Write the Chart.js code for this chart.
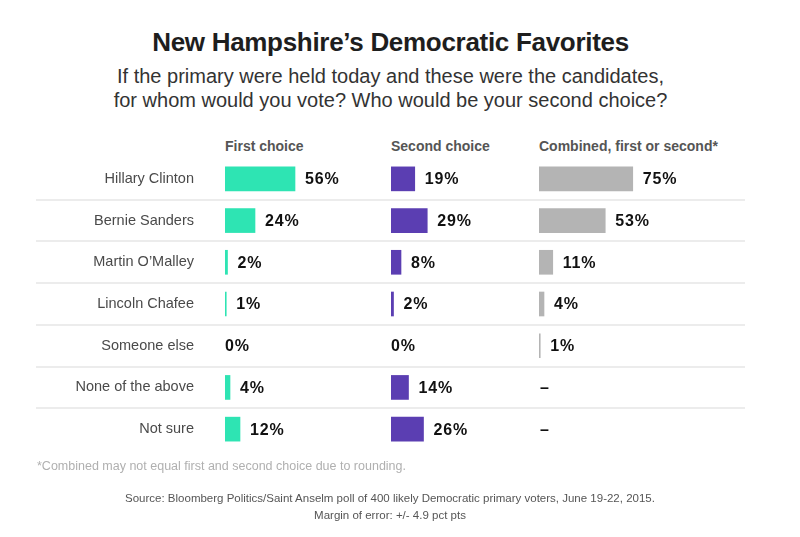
<!DOCTYPE html>
<html>
<head>
<meta charset="utf-8">
<script src="https://cdn.jsdelivr.net/npm/chart.js@4.4.1/dist/chart.umd.min.js"></script>
<style>
  body { margin: 0; background: #fff; font-family: "Liberation Sans", Arial, sans-serif; }
  #page { position: relative; width: 800px; height: 537px; overflow: hidden; background: #fff; }
  .title { position: absolute; top: 27px; left: 0; width: 781px; text-align: center;
           font-size: 26px; font-weight: bold; color: #1e1e1e; letter-spacing: -0.3px; line-height: 30px; }
  .sub { position: absolute; top: 64px; left: 0; width: 781px; text-align: center;
         font-size: 20px; color: #333; line-height: 24px; }
  .head { position: absolute; top: 138px; font-size: 14px; font-weight: bold; color: #555; line-height: 16px; }
  canvas { position: absolute; }
  .note { position: absolute; left: 37px; top: 459px; font-size: 12.5px; color: #b0b0b0; }
  .source { position: absolute; left: 0; top: 490px; width: 780px; text-align: center;
            font-size: 11.5px; color: #555; line-height: 17px; }
</style>
</head>
<body>
<div id="page">
  <div class="title">New Hampshire’s Democratic Favorites</div>
  <div class="sub">If the primary were held today and these were the candidates,<br>for whom would you vote? Who would be your second choice?</div>

  <div class="head" style="left:225px">First choice</div>
  <div class="head" style="left:391px">Second choice</div>
  <div class="head" style="left:539px">Combined, first or second*</div>

  <canvas id="chartFirst" width="709" height="392" style="left:36px; top:108px"></canvas>
  <canvas id="chartSecond" width="150" height="392" style="left:391px; top:108px"></canvas>
  <canvas id="chartCombined" width="200" height="392" style="left:539px; top:108px"></canvas>

  <div class="note">*Combined may not equal first and second choice due to rounding.</div>
  <div class="source">Source: Bloomberg Politics/Saint Anselm poll of 400 likely Democratic primary voters, June 19-22, 2015.<br>Margin of error: +/- 4.9 pct pts</div>
</div>

<script>
const categories = ["Hillary Clinton", "Bernie Sanders", "Martin O’Malley", "Lincoln Chafee",
                    "Someone else", "None of the above", "Not sure"];
const firstChoice = [56, 24, 2, 1, 0, 4, 12];
const secondChoice = [19, 29, 8, 2, 0, 14, 26];
// null = no combined figure (shown as a dash)
const combined = [75, 53, 11, 4, 1, null, null];

const TEAL = "#2ee4b3";
const PURPLE = "#5b3eb2";
const GRAY = "#b4b4b4";

// percent label at the end of every bar
const valueLabels = {
  id: "valueLabels",
  afterDatasetsDraw(chart) {
    const ctx = chart.ctx;
    const xScale = chart.scales.x;
    const yScale = chart.scales.y;
    const values = chart.data.datasets[0].data;
    ctx.save();
    ctx.font = 'bold 16px "Liberation Sans", Arial, sans-serif';
    ctx.letterSpacing = "0.8px";
    ctx.fillStyle = "#111";
    ctx.textBaseline = "middle";
    ctx.textAlign = "left";
    values.forEach((v, i) => {
      const y = yScale.getPixelForValue(i) + 1;
      let x, text;
      if (v === null) {
        text = "–";
        x = xScale.getPixelForValue(0) + 1;
      } else if (v === 0) {
        text = "0%";
        x = xScale.getPixelForValue(0);
      } else {
        text = v + "%";
        x = xScale.getPixelForValue(v) + 10;
      }
      ctx.fillText(text, x, y);
    });
    ctx.restore();
  }
};

// thin separators between the rows, across the whole table
const rowLines = {
  id: "rowLines",
  beforeDatasetsDraw(chart) {
    const ctx = chart.ctx;
    const yScale = chart.scales.y;
    ctx.save();
    ctx.strokeStyle = "#e6e6e6";
    ctx.lineWidth = 1.5;
    for (let i = 1; i < categories.length; i++) {
      const py = Math.round((yScale.getPixelForValue(i - 1) + yScale.getPixelForValue(i)) / 2);
      ctx.beginPath();
      ctx.moveTo(0, py);
      ctx.lineTo(chart.width, py);
      ctx.stroke();
    }
    ctx.restore();
  }
};

function makeChart(id, values, color, xMax, showLabels, extraPlugins) {
  return new Chart(document.getElementById(id), {
    type: "bar",
    data: {
      labels: categories,
      datasets: [{
        data: values,
        // zero bars stay invisible
        backgroundColor: (c) => (c.raw ? color : "rgba(0,0,0,0)"),
        barThickness: 24,
        borderWidth: 0,
      }],
    },
    options: {
      indexAxis: "y",
      responsive: false,
      animation: false,
      // big top/bottom padding so the tick-label padding never squeezes the rows
      layout: { padding: { top: 50, bottom: 50, left: 0, right: 0 } },
      plugins: {
        legend: { display: false },
        tooltip: { enabled: false },
      },
      scales: {
        x: { display: false, min: 0, max: xMax },
        y: {
          display: showLabels,
          grid: { display: false, drawTicks: false },
          border: { display: false },
          ticks: {
            color: "#4a4a4a",
            padding: 31,
            font: { family: '"Liberation Sans", Arial, sans-serif', size: 14.5 },
          },
          afterFit: showLabels ? (scale) => { scale.width = 189; } : undefined,
        },
      },
    },
    plugins: [valueLabels].concat(extraPlugins || []),
  });
}

// 1.25 px per percentage point in every column
makeChart("chartFirst", firstChoice, TEAL, (709 - 189) / 1.25, true, [rowLines]);
makeChart("chartSecond", secondChoice, PURPLE, 150 / 1.25, false);
makeChart("chartCombined", combined, GRAY, 200 / 1.25, false);
</script>
</body>
</html>
